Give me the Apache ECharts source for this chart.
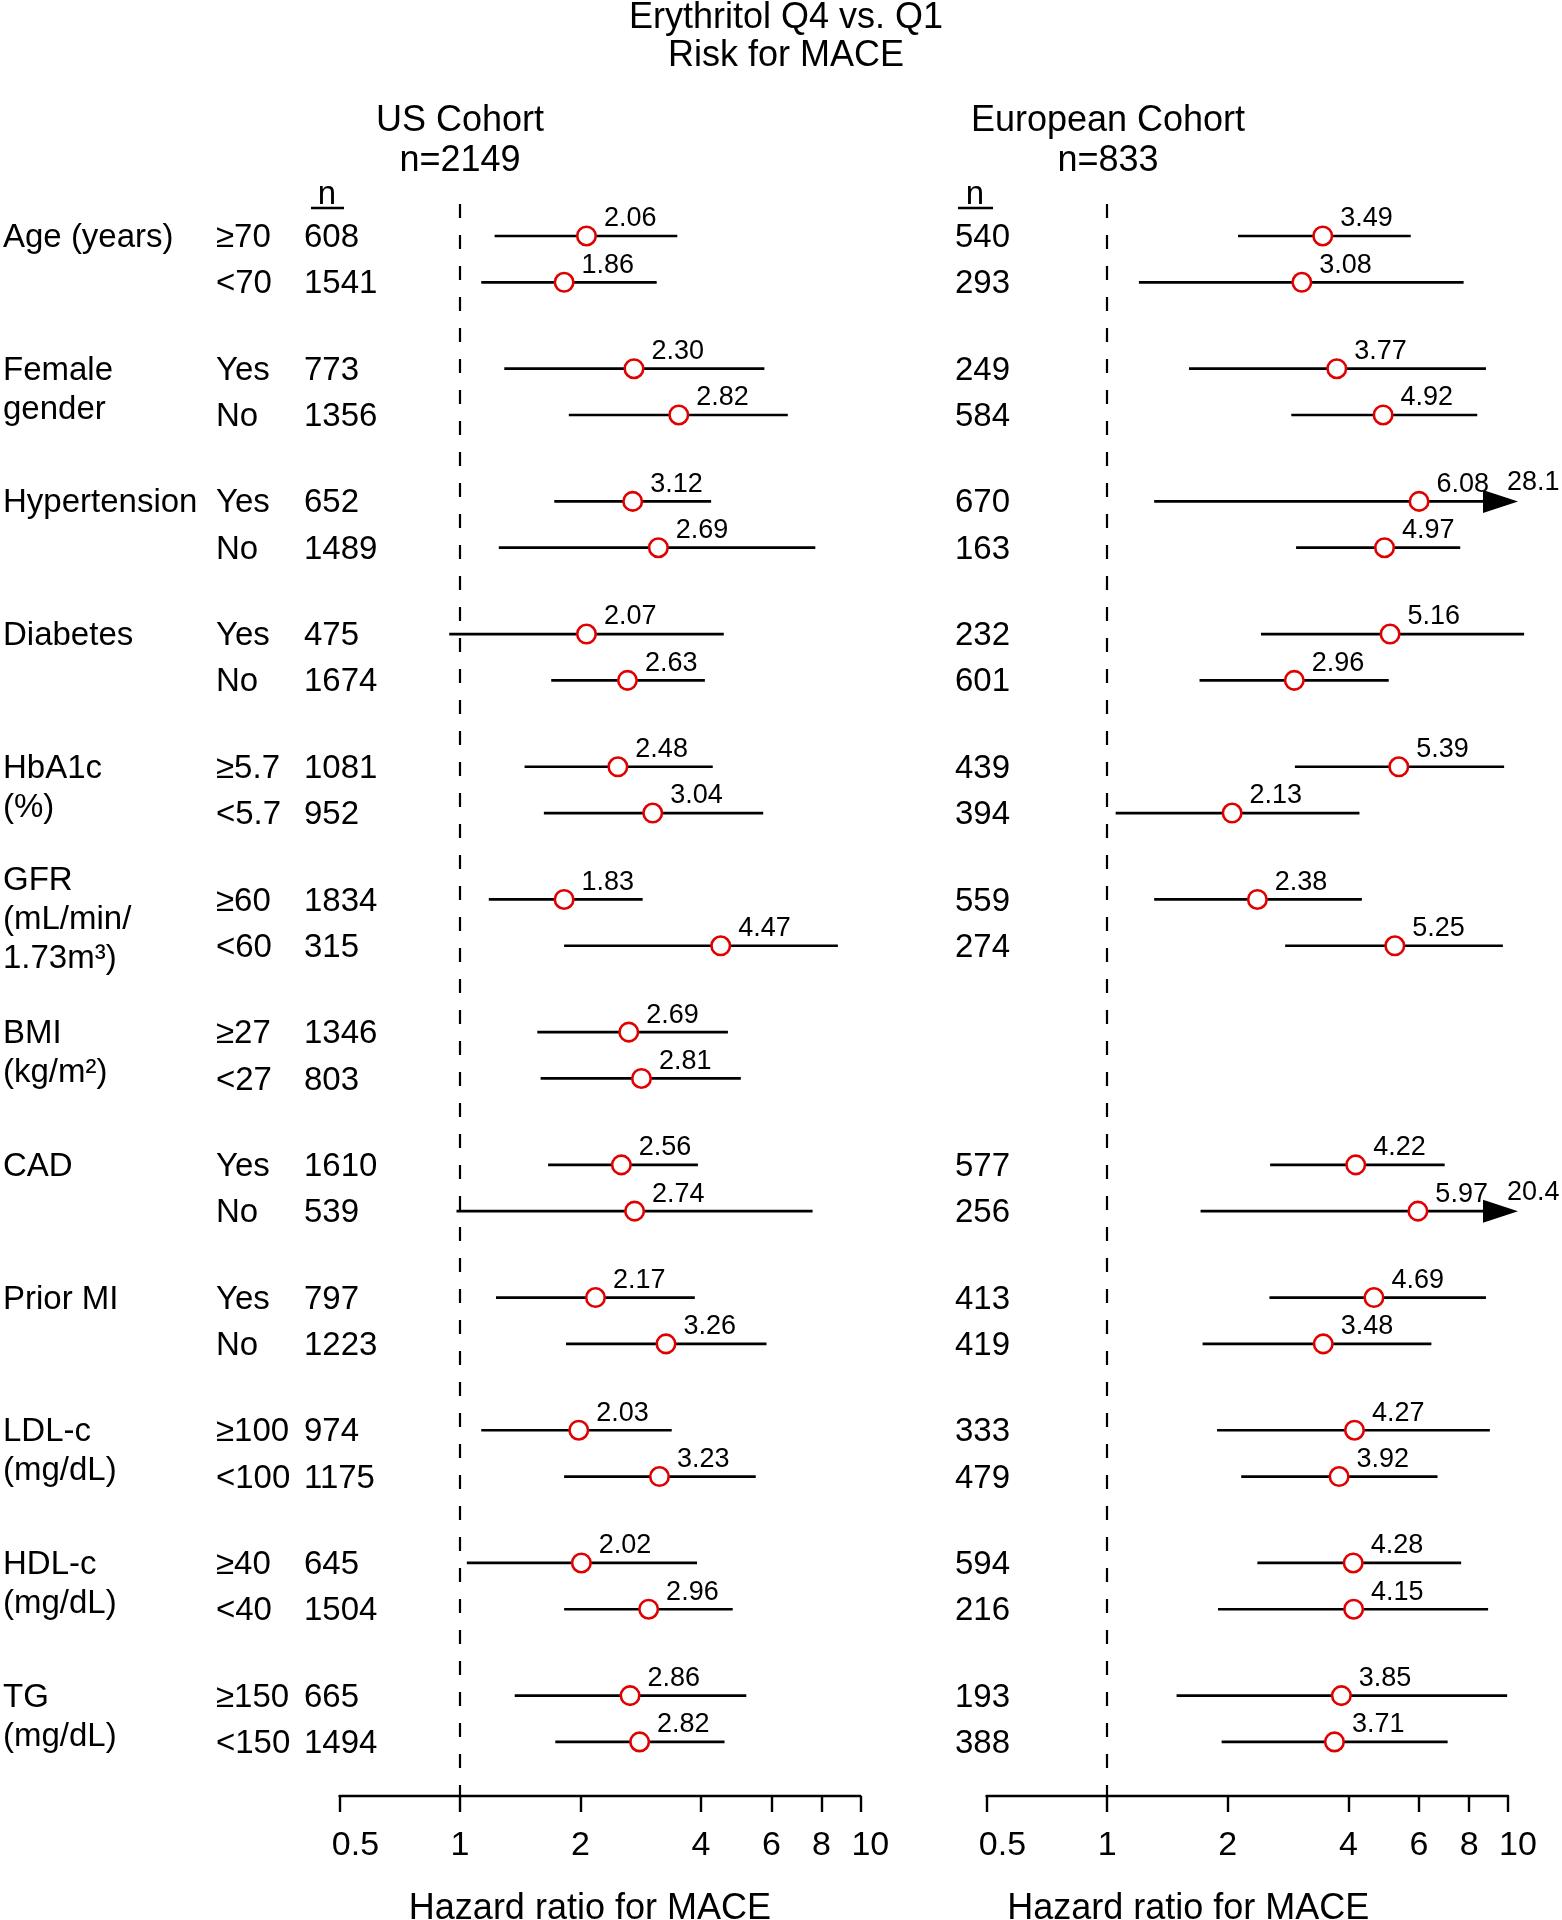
<!DOCTYPE html>
<html><head><meta charset="utf-8">
<script src="https://cdn.jsdelivr.net/npm/echarts@6/dist/echarts.min.js"></script>
<style>html,body{margin:0;padding:0;background:#fff}#c{width:1562px;height:1920px}</style>
</head><body><div id="c"></div>
<script>
// ---------- DATA ----------
const groupLabels = [['Age (years)'], ['Female','gender'], ['Hypertension'], ['Diabetes'], ['HbA1c','(%)'],
  ['GFR','(mL/min/','1.73m³)'], ['BMI','(kg/m²)'], ['CAD'], ['Prior MI'], ['LDL-c','(mg/dL)'], ['HDL-c','(mg/dL)'], ['TG','(mg/dL)']];
const subgroups = ['≥70','<70','Yes','No','Yes','No','Yes','No','≥5.7','<5.7','≥60','<60','≥27','<27',
  'Yes','No','Yes','No','≥100','<100','≥40','<40','≥150','<150'];

const usN     = [608,1541,773,1356,652,1489,475,1674,1081,952,1834,315,1346,803,1610,539,797,1223,974,1175,645,1504,665,1494];
const usLabel = ['2.06','1.86','2.30','2.82','3.12','2.69','2.07','2.63','2.48','3.04','1.83','4.47','2.69','2.81','2.56','2.74','2.17','3.26','2.03','3.23','2.02','2.96','2.86','2.82'];
const usPoint = [2.07,1.82,2.72,3.52,2.70,3.13,2.07,2.62,2.48,3.03,1.82,4.48,2.64,2.84,2.53,2.73,2.18,3.27,1.98,3.15,2.01,2.96,2.66,2.81];
const usLo    = [1.22,1.13,1.29,1.87,1.72,1.25,0.94,1.69,1.45,1.62,1.18,1.82,1.56,1.59,1.66,0.98,1.23,1.84,1.13,1.82,1.04,1.82,1.37,1.73];
const usHi    = [3.49,3.10,5.76,6.59,4.24,7.72,4.56,4.09,4.28,5.72,2.86,8.79,4.67,5.03,3.93,7.60,3.86,5.83,3.38,5.48,3.91,4.80,5.19,4.58];

const euN     = [540,293,249,584,670,163,232,601,439,394,559,274,null,null,577,256,413,419,333,479,594,216,193,388];
const euLabel = ['3.49','3.08','3.77','4.92','6.08','4.97','5.16','2.96','5.39','2.13','2.38','5.25',null,null,'4.22','5.97','4.69','3.48','4.27','3.92','4.28','4.15','3.85','3.71'];
const euPoint = [3.45,3.06,3.74,4.88,6.00,4.92,5.08,2.93,5.34,2.05,2.37,5.22,null,null,4.17,5.96,4.63,3.46,4.14,3.79,4.11,4.12,3.84,3.69];
const euLo    = [2.12,1.20,1.60,2.88,1.31,2.96,2.42,1.70,2.94,1.05,1.31,2.78,null,null,2.55,1.71,2.54,1.73,1.88,2.16,2.37,1.89,1.49,1.93];
const euHi    = [5.72,7.75,8.81,8.38,28.1,7.60,10.97,5.04,9.78,4.26,4.32,9.71,null,null,6.95,20.4,8.81,6.44,9.01,6.67,7.64,8.92,9.95,7.07];

const tickValues = [0.5,1,2,4,6,8,10];
const cohortTitles = [['US Cohort','n=2149'], ['European Cohort','n=833']];
const mainTitle = ['Erythritol Q4 vs. Q1', 'Risk for MACE'];
const xName = 'Hazard ratio for MACE';

// ---------- LAYOUT ----------
const FONT = '"Liberation Sans", Arial, Helvetica, sans-serif';
const X_MIN = 0.5, X_MAX = 10, ARROW_THRESHOLD = 15;
const GROUP_STEP = 2.866, ROW_STEP = 1;
const Y_MIN = -0.691, Y_MAX = 33.694;
const RED = '#e00000';
const TXT_DY = 2;
function rowY(i){ return Math.floor(i/2)*GROUP_STEP + (i%2)*ROW_STEP; }

function ciData(lo, hi){
  const d = [];
  lo.forEach((v,i)=>{ if (v != null) d.push([v, hi[i], rowY(i)]); });
  return d;
}
function ptData(pt, lab){
  const d = [];
  pt.forEach((v,i)=>{ if (v != null) d.push([v, rowY(i), lab[i]]); });
  return d;
}
function ciRender(params, api){
  const lo = api.value(0), hi = api.value(1), y = api.value(2);
  const p0 = api.coord([lo, y]);
  const lw = 2.7;
  if (hi <= ARROW_THRESHOLD){
    const p1 = api.coord([hi, y]);
    return {type:'line', shape:{x1:p0[0], y1:p0[1], x2:p1[0], y2:p1[1]}, style:{stroke:'#000', lineWidth:lw}};
  }
  const pm = api.coord([X_MAX, y]);
  const tip = pm[0] + 10, base = tip - 35, yy = p0[1];
  return {type:'group', children:[
    {type:'line', shape:{x1:p0[0], y1:yy, x2:base, y2:yy}, style:{stroke:'#000', lineWidth:lw}},
    {type:'polygon', shape:{points:[[base, yy-11.5],[tip, yy],[base, yy+11.5]]}, style:{fill:'#000'}},
    {type:'text', x: tip - 11, y: yy - 19, style:{text: String(hi), fontFamily:FONT, fontSize:27, fill:'#000', align:'left', verticalAlign:'middle'}}
  ]};
}
function textRender(params, api){
  const idx = api.value(2);
  const y = api.coord([1, api.value(1)])[1] + TXT_DY;
  const ts = (t, x) => ({type:'text', x, y, style:{text:t, fontFamily:FONT, fontSize:33, fill:'#000', align:'left', verticalAlign:'middle'}});
  const ch = [ts(subgroups[idx], 216), ts(String(usN[idx]), 304)];
  if (euN[idx] != null) ch.push(ts(String(euN[idx]), 955));
  return {type:'group', children: ch};
}
function groupRender(params, api){
  const g = api.value(2);
  const y1 = api.coord([1, api.value(1)])[1] + TXT_DY;
  const y2 = api.coord([1, api.value(1) + ROW_STEP])[1] + TXT_DY;
  const lines = groupLabels[g];
  const gap = 39;
  const start = lines.length >= 3 ? (y1 + y2)/2 - gap - 5 : y1;
  return {type:'group', children: lines.map((t,j)=>({type:'text', x:3, y:start + j*gap,
    style:{text:t, fontFamily:FONT, fontSize:33, fill:'#000', align:'left', verticalAlign:'middle'}}))};
}
function tickFmt(v){
  const r = Math.round(v*100)/100;
  if (Math.abs(r - X_MIN) < 1e-6) return '{l|' + r + '}';
  if (Math.abs(r - X_MAX) < 1e-6) return '{r|' + r + '}';
  return String(r);
}
function makeXAxis(gi, namePad){
  return {type:'log', logBase:10, gridIndex:gi, min:X_MIN, max:X_MAX,
    name:xName, nameLocation:'middle', nameGap:95,
    nameTextStyle:{fontFamily:FONT, fontSize:36, color:'#000', padding:[0, namePad, 0, 0]},
    axisLine:{show:true, onZero:false, lineStyle:{color:'#000', width:2.4}},
    axisTick:{show:true, customValues:tickValues, length:16, lineStyle:{color:'#000', width:2.4}},
    axisLabel:{show:true, customValues:tickValues, margin:33, fontFamily:FONT, fontSize:34, color:'#000', formatter:tickFmt,
      rich:{l:{fontFamily:FONT, fontSize:34, color:'#000', padding:[0,0,0,32]}, r:{fontFamily:FONT, fontSize:34, color:'#000', padding:[0,0,0,20]}}},
    splitLine:{show:false}, minorTick:{show:false}, minorSplitLine:{show:false}};
}
function makeYAxis(gi){ return {type:'value', gridIndex:gi, inverse:true, min:Y_MIN, max:Y_MAX, show:false}; }

const dashLine = {silent:true, symbol:['none','none'], label:{show:false},
  lineStyle:{type:[14,17], color:'#000', width:2.2}, data:[{xAxis:1}]};
function scatterSeries(gi, data){
  return {type:'scatter', xAxisIndex:gi, yAxisIndex:gi, data, z:5,
    symbol:'circle', symbolSize:18.5,
    itemStyle:{color:'#fff', borderColor:RED, borderWidth:2.6, opacity:1},
    label:{show:true, position:[28,-6.5], align:'left', verticalAlign:'middle', fontFamily:FONT, fontSize:27, color:'#000',
      formatter: p => p.data[2]},
    emphasis:{disabled:true},
    markLine: dashLine};
}

const rowItems = subgroups.map((s,i)=>[1, rowY(i), i]);
const groupItems = groupLabels.map((g,i)=>[1, rowY(i*2), i]);

const txt = (t, x, y, size) => ({type:'text', x, y, style:{text:t, fontFamily:FONT, fontSize:size, fill:'#000', align:'center', verticalAlign:'middle'}});

const gridBase = {top:204, bottom:124, containLabel:false, outerBoundsMode:'none'};
const chart = echarts.init(document.getElementById('c'), null, {renderer:'canvas'});
chart.setOption({
  backgroundColor:'#fff',
  animation:false,
  grid:[Object.assign({left:339.5, width:520.8}, gridBase), Object.assign({left:986.5, width:521.5}, gridBase)],
  xAxis:[makeXAxis(0, 20), makeXAxis(1, 118)],
  yAxis:[makeYAxis(0), makeYAxis(1)],
  graphic:[
    txt(mainTitle[0], 786, 18, 36), txt(mainTitle[1], 786, 56, 36),
    txt(cohortTitles[0][0], 460, 121, 36), txt(cohortTitles[0][1], 460, 161, 36),
    txt(cohortTitles[1][0], 1108, 121, 36), txt(cohortTitles[1][1], 1108, 161, 36),
    txt('n', 327, 194.5, 33), txt('n', 975, 194.5, 33),
    {type:'line', shape:{x1:311, y1:208, x2:344, y2:208}, style:{stroke:'#000', lineWidth:2.5}},
    {type:'line', shape:{x1:958, y1:208, x2:993, y2:208}, style:{stroke:'#000', lineWidth:2.5}}
  ],
  series:[
    {type:'custom', xAxisIndex:0, yAxisIndex:0, clip:false, z:2, data:ciData(usLo, usHi), renderItem:ciRender, encode:{x:[0,1], y:2}},
    {type:'custom', xAxisIndex:1, yAxisIndex:1, clip:false, z:2, data:ciData(euLo, euHi), renderItem:ciRender, encode:{x:[0,1], y:2}},
    scatterSeries(0, ptData(usPoint, usLabel)),
    scatterSeries(1, ptData(euPoint, euLabel)),
    {type:'custom', xAxisIndex:0, yAxisIndex:0, clip:false, z:1, data:rowItems, renderItem:textRender, encode:{x:0, y:1}, silent:true},
    {type:'custom', xAxisIndex:0, yAxisIndex:0, clip:false, z:1, data:groupItems, renderItem:groupRender, encode:{x:0, y:1}, silent:true}
  ]
});
</script></body></html>
